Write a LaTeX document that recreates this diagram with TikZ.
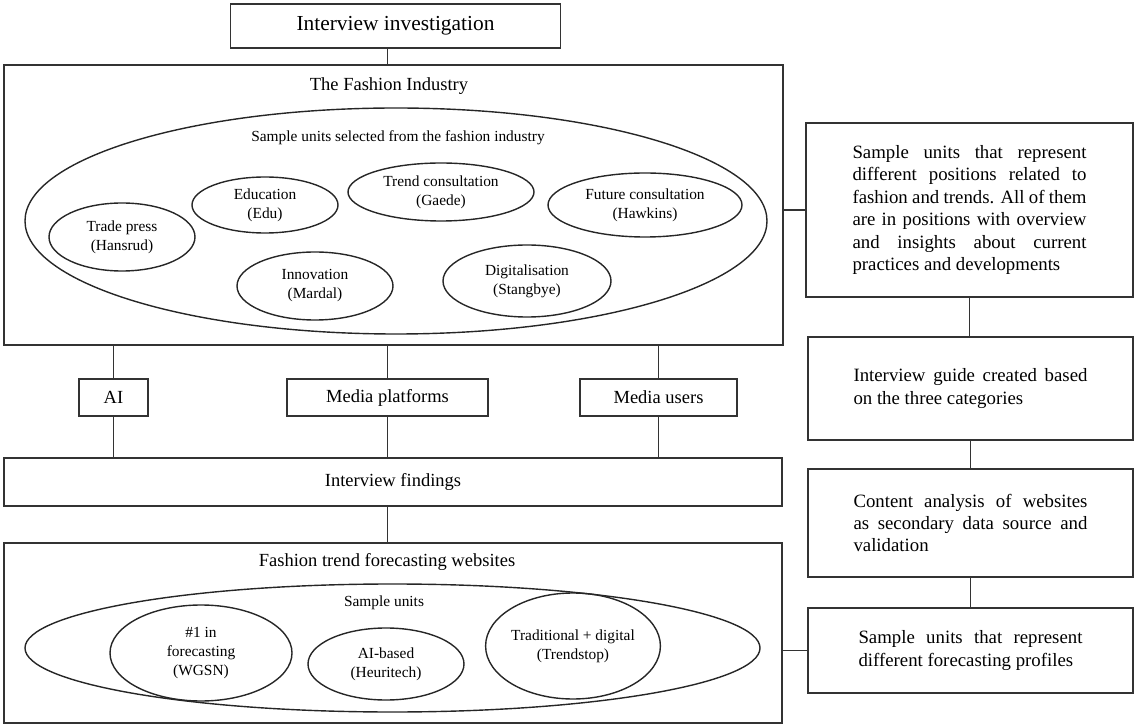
\documentclass[tikz,border=0pt]{standalone}
\usepackage{fontspec}
\setmainfont{Liberation Serif}
\usetikzlibrary{shapes,positioning,calc}

\begin{document}
\begin{tikzpicture}[x=0.5pt,y=-0.5pt,
    box/.style={draw=black!80,line width=0.9pt,rectangle,inner sep=0pt,font=\fontsize{9.25}{11}\selectfont},
    oval/.style={draw=black!85,line width=0.7pt,ellipse,inner sep=0pt,align=center,font=\fontsize{7.7}{9.5}\selectfont},
    sidebox/.style={box,text width=117pt,align=justify,font=\fontsize{9.4}{11.2}\selectfont},
    lbl/.style={inner sep=0pt,font=\fontsize{9.25}{11}\selectfont},
    small/.style={inner sep=0pt,font=\fontsize{7.7}{9.5}\selectfont}]
    \useasboundingbox (0,0) rectangle (1134,726);
    % interview part
    \node[box,minimum width=165pt,minimum height=22pt,font=\fontsize{10.7}{12}\selectfont] (inv) at (395.5,26) {Interview investigation};
    \node[box,minimum width=389.5pt,minimum height=140pt] (fash) at (393.5,205) {};
    \node[lbl] (fashtitle) at (389,86) {The Fashion Industry};
    \node[oval,minimum width=371pt,minimum height=113pt] (fiell) at (396,221) {};
    \node[small] (fisub) at (398,138) {Sample units selected from the fashion industry};
    \node[oval,minimum width=73pt,minimum height=34pt] (tp) at (122,237) {Trade press\\(Hansrud)};
    \node[oval,minimum width=73pt,minimum height=28pt] (edu) at (265,205) {Education\\(Edu)};
    \node[oval,minimum width=93pt,minimum height=29pt] (tc) at (441,192) {Trend consultation\\(Gaede)};
    \node[oval,minimum width=97pt,minimum height=32pt] (fc) at (645,205) {Future consultation\\(Hawkins)};
    \node[oval,minimum width=78pt,minimum height=34pt] (inn) at (315,286) {Innovation\\(Mardal)};
    \node[oval,minimum width=84pt,minimum height=36pt] (dig) at (527,281) {Digitalisation\\(Stangbye)};

    % categories
    \node[box,minimum width=34.5pt,minimum height=18.5pt] (ai) at (113.5,397.5) {AI};
    \node[box,minimum width=100.5pt,minimum height=18.5pt] (mp) at (387.5,397.5) {Media platforms};
    \node[box,minimum width=78.5pt,minimum height=18.5pt] (mu) at (658.5,397.5) {Media users};
    \node[box,minimum width=389pt,minimum height=24pt] (find) at (393,482) {Interview findings};

    % websites part
    \node[box,minimum width=389pt,minimum height=90pt] (web) at (393,633) {};
    \node[lbl] (webtitle) at (387,562) {Fashion trend forecasting websites};
    \node[oval,minimum width=367.5pt,minimum height=64pt] (suell) at (392.5,648) {};
    \node[small] (susub) at (384,603) {Sample units};
    \node[oval,minimum width=91pt,minimum height=48pt] (wgsn) at (201,653) {\#1 in\\forecasting\\(WGSN)};
    \node[oval,minimum width=78pt,minimum height=36pt] (heu) at (386,664) {AI-based\\(Heuritech)};
    \node[oval,minimum width=85pt,minimum height=53pt] (trd) at (573,646) {Traditional + digital\\(Trendstop)};

    % right column
    \node[sidebox,minimum width=163.5pt,minimum height=87pt] (r1) at (969.5,210) {Sample units that represent\linebreak different positions related to\linebreak fashion and trends. All of them\linebreak are in positions with overview\linebreak and insights about current\linebreak practices and developments};
    \node[sidebox,minimum width=162.5pt,minimum height=51.5pt] (r2) at (970.5,388.5) {Interview guide created based\linebreak on the three categories};
    \node[sidebox,minimum width=162.5pt,minimum height=54pt] (r3) at (970.5,523) {Content analysis of websites\linebreak as secondary data source and\linebreak validation};
    \node[sidebox,text width=112pt,minimum width=162.5pt,minimum height=42.5pt] (r4) at (970.5,650.5) {Sample units that represent\linebreak different forecasting profiles};

    % connectors
    \begin{scope}[draw=black!80,line width=0.9pt]
        \draw (inv.south -| mp) -- (fash.north -| mp);
        \foreach \n in {ai,mp,mu} {
            \draw (fash.south -| \n) -- (\n);
            \draw (\n) -- (find.north -| \n);
        }
        \draw (find.south -| mp) -- (web.north -| mp);
        \draw (fash.east |- r1.west) -- (r1.west);
        \draw (web.east |- r4.west) -- (r4.west);
        \foreach \a/\b in {r1/r2,r2/r3,r3/r4}
            \draw (\a.south) -- (\a.south |- \b.north);
    \end{scope}
\end{tikzpicture}
\end{document}
